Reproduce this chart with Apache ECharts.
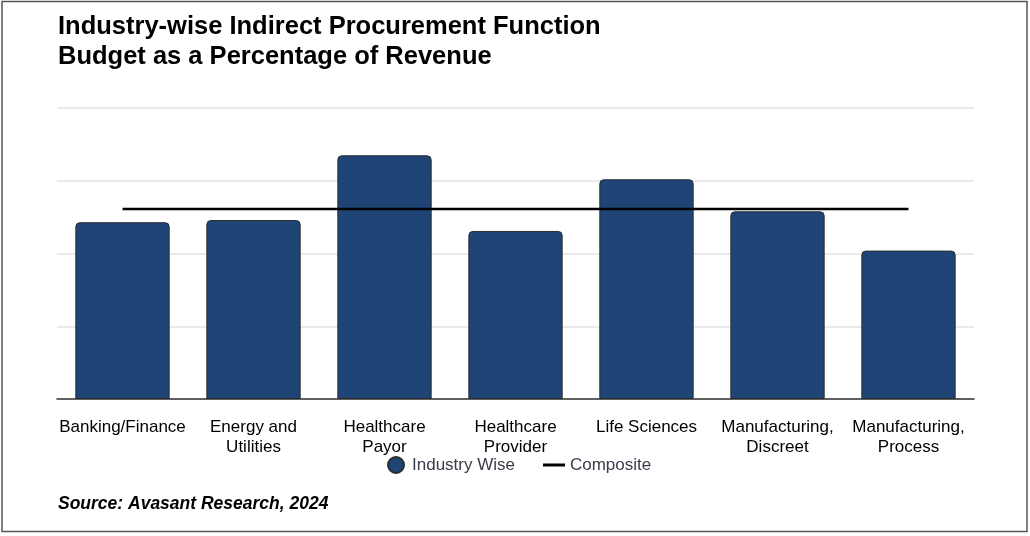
<!DOCTYPE html>
<html>
<head>
<meta charset="utf-8">
<script src="https://cdn.jsdelivr.net/npm/echarts@6/dist/echarts.min.js"></script>
<style>
html,body{margin:0;padding:0;background:#fff;}
#chart{width:1030px;height:536px;}
</style>
</head>
<body>
<div id="chart"></div>
<script>
const categories = ['Banking/Finance', 'Energy and\nUtilities', 'Healthcare\nPayor', 'Healthcare\nProvider', 'Life Sciences', 'Manufacturing,\nDiscreet', 'Manufacturing,\nProcess'];
const industryWise = [2.43, 2.46, 3.35, 2.31, 3.02, 2.58, 2.04];
const composite = [2.61, 2.61, 2.61, 2.61, 2.61, 2.61, 2.61];
const titleText = 'Industry-wise Indirect Procurement Function\nBudget as a Percentage of Revenue';
const sourceText = 'Source: Avasant Research, 2024';

const chart = echarts.init(document.getElementById('chart'));
chart.setOption({
  animation: false,
  backgroundColor: '#fff',
  title: {
    text: titleText,
    left: 53, top: 7,
    textStyle: { fontFamily: 'Liberation Sans, Arial, sans-serif', fontSize: 25.5, fontWeight: 'bold', color: '#000', lineHeight: 30 }
  },
  graphic: [
    { type: 'rect', shape: { x: 2, y: 1.5, width: 1025, height: 530 }, style: { fill: 'none', stroke: '#555', lineWidth: 1.5 }, silent: true },
    { type: 'text', left: 58, top: 495, style: { text: sourceText, font: 'italic bold 17.5px "Liberation Sans", Arial, sans-serif', fill: '#000' } }
  ],
  legend: {
    left: 382, top: 451,
    itemGap: 28,
    itemWidth: 22, itemHeight: 16,
    textStyle: { fontFamily: 'Liberation Sans, Arial, sans-serif', fontSize: 17, color: '#3b3b4a' },
    data: [
      { name: 'Industry Wise', icon: 'circle' },
      { name: 'Composite', icon: 'path://M0,0 L22,0 L22,3 L0,3 Z' }
    ]
  },
  grid: { left: 57, right: 56, top: 108, bottom: 137 },
  xAxis: {
    type: 'category',
    data: categories,
    axisLine: { lineStyle: { color: '#333', width: 1.5 } },
    axisTick: { show: false },
    axisLabel: { interval: 0, fontFamily: 'Liberation Sans, Arial, sans-serif', fontSize: 17, color: '#000', lineHeight: 20, margin: 18 }
  },
  yAxis: {
    type: 'value', min: 0, max: 4, interval: 1,
    axisLabel: { show: false },
    axisLine: { show: false },
    axisTick: { show: false },
    splitLine: { lineStyle: { color: '#e3e3e3', width: 1.5 } }
  },
  series: [
    {
      name: 'Industry Wise', type: 'bar', data: industryWise,
      barWidth: '72%',
      itemStyle: { color: '#1f4577', borderColor: '#2b2b2b', borderWidth: 1, borderRadius: [4, 4, 0, 0] }
    },
    {
      name: 'Composite', type: 'line', data: composite,
      symbol: 'none', z: 5,
      lineStyle: { color: '#000', width: 2.5 },
      itemStyle: { color: '#000' }
    }
  ]
});
</script>
</body>
</html>
